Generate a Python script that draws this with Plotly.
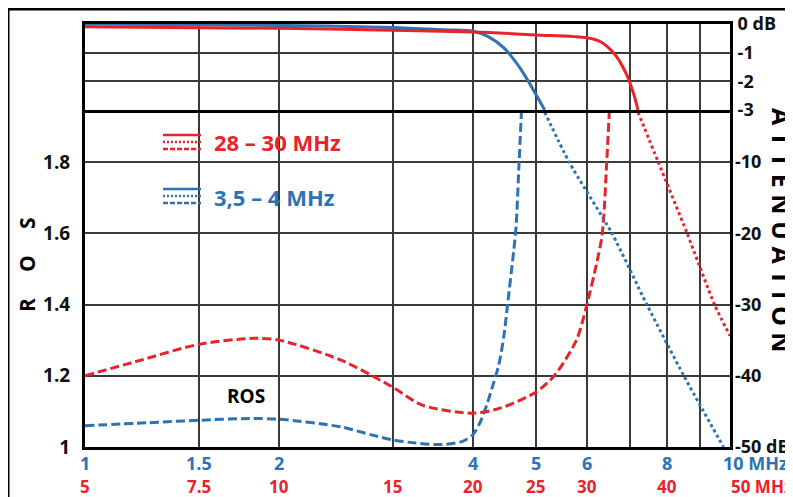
import numpy as np
import plotly.graph_objects as go

# ---------------- data ----------------
# Frequency grid (3,5-4 MHz band scale, MHz); the 28-30 MHz band scale is 5x
grid_freqs = [1, 1.5, 2, 3, 4, 5, 6, 7, 8, 9, 10]
blue_tick_vals = [1, 1.5, 2, 4, 5, 6, 8, 10]
blue_tick_text = ["1", "1.5", "2", "4", "5", "6", "8", "10 MHz"]
red_tick_vals = [5, 7.5, 10, 15, 20, 25, 30, 40, 50]
red_tick_text = ["5", "7.5", "10", "15", "20", "25", "30", "40", "50 MHz"]
RED_SCALE = 5  # red frequency axis = 5 x blue frequency axis

ros_ticks = [1, 1.2, 1.4, 1.6, 1.8]
ros_tick_text = ["1", "1.2", "1.4", "1.6", "1.8"]
att_low_ticks = [-10, -20, -30, -40, -50]
att_low_text = ["-10", "-20", "-30", "-40", "-50 dB"]
att_top_ticks = [0, -1, -2, -3]
att_top_text = ["0 dB", "-1", "-2", "-3"]

# 3,5 - 4 MHz filter : attenuation (dB) and ROS (SWR)
blue_att_f = [1.0, 2.0, 3.0, 3.6, 4.0, 4.22, 4.47, 4.73, 4.98, 5.16, 5.63, 6.56, 7.43, 8.48, 9.77]
blue_att_db = [0.0, -0.05, -0.12, -0.2, -0.25, -0.44, -0.85, -1.55, -2.38, -3.0, -10, -20, -30, -40, -50]
blue_ros_f = [1.0, 1.25, 1.5, 1.8, 2.0, 2.5, 2.78, 3.0, 3.26, 3.58, 3.85, 4.0, 4.1, 4.2, 4.3,
              4.38, 4.46, 4.52, 4.62, 4.66, 4.71, 4.75]
blue_ros = [1.06, 1.068, 1.075, 1.08, 1.078, 1.056, 1.034, 1.02, 1.011, 1.007, 1.016, 1.036, 1.07,
            1.12, 1.18, 1.23, 1.31, 1.40, 1.55, 1.62, 1.80, 1.943]

# 28 - 30 MHz filter
red_att_f = [5, 10, 15, 20, 25, 30, 31.5, 33.2, 34.6, 35.5, 36.0, 38.7, 42.9, 47.3, 50]
red_att_db = [-0.1, -0.15, -0.22, -0.28, -0.38, -0.48, -0.62, -1.08, -1.78, -2.48, -3.0, -10, -20, -30, -34.4]
red_ros_f = [5, 6, 7.5, 9.1, 10, 12.5, 15, 16.7, 20, 22, 25, 26.7, 28.9, 30, 31.1, 31.7, 32.2, 32.5]
red_ros = [1.20, 1.24, 1.288, 1.305, 1.30, 1.243, 1.168, 1.117, 1.095, 1.109, 1.154, 1.20, 1.30,
           1.40, 1.52, 1.60, 1.80, 1.943]

BLUE = "#2C73B6"
RED = "#E8232A"
GRID = "#3a3a3a"
FONT = "Open Sans"

# ---------------- geometry (screen pixels of the target picture) ----------------
OFF = 8                      # page body margin
W, H = 793 - OFF, 497 - OFF  # figure size
L, R, T, B = 85, 730, 24, 447
SPLIT = 110


def px(x):
    return (x - L) / (R - L)


def py(y):
    return (B - y) / (B - T)


d_split = py(SPLIT)
ros_top = 1 + (B - SPLIT) * 0.8 / (B - 162)
att_top = -50 + (B - SPLIT) * 40 / (B - 162)


def split(f, db):
    pf = [a for a, b in zip(f, db) if b >= -3]
    pd = [b for b in db if b >= -3]
    sf = [a for a, b in zip(f, db) if b <= -3]
    sd = [b for b in db if b <= -3]
    return pf, pd, sf, sd


fig = go.Figure()

for f, db, ros_f, ros, col, scale in [
    (blue_att_f, blue_att_db, blue_ros_f, blue_ros, BLUE, 1),
    (red_att_f, red_att_db, red_ros_f, red_ros, RED, RED_SCALE),
]:
    pf, pd, sf, sd = split(f, db)
    fig.add_trace(go.Scatter(x=np.array(pf) / scale, y=pd, xaxis="x2", yaxis="y3", mode="lines",
                             line=dict(color=col, width=3, shape="spline", smoothing=0.8),
                             hoverinfo="skip"))
    fig.add_trace(go.Scatter(x=np.array(sf) / scale, y=sd, xaxis="x", yaxis="y2", mode="lines",
                             line=dict(color=col, width=3, dash="3px,3px", shape="spline", smoothing=0.6),
                             hoverinfo="skip"))
    fig.add_trace(go.Scatter(x=np.array(ros_f) / scale, y=ros, xaxis="x", yaxis="y", mode="lines",
                             line=dict(color=col, width=3, dash="9px,4px", shape="spline", smoothing=0.8),
                             hoverinfo="skip"))

axis_common = dict(type="log", range=[0, 1], tickvals=grid_freqs, showticklabels=False, ticks="",
                   showgrid=True, gridcolor=GRID, gridwidth=1.5, showline=True,
                   linecolor="black", linewidth=3, zeroline=False, automargin=False)

fig.update_layout(
    template="none",
    width=W, height=H,
    margin=dict(l=L - OFF, r=W - (R - OFF), t=T - OFF, b=H - (B - OFF), pad=0, autoexpand=False),
    paper_bgcolor="white", plot_bgcolor="white",
    showlegend=False,
    font=dict(family=FONT, color="black"),
    xaxis=dict(domain=[0, 1], anchor="y", mirror=False, **axis_common),
    xaxis2=dict(domain=[0, 1], anchor="y3", matches="x", mirror=True, **axis_common),
    yaxis=dict(domain=[0, d_split], range=[1, ros_top], tickvals=ros_ticks, ticktext=ros_tick_text,
               ticks="", ticklabelstandoff=8, showgrid=True, gridcolor=GRID, gridwidth=1.5,
               showline=True, mirror=True, linecolor="black", linewidth=3, zeroline=False,
               automargin=False,
               tickfont=dict(family=FONT, size=19, color="#111", weight="bold")),
    yaxis2=dict(overlaying="y", side="right", anchor="x", range=[-50, att_top],
                tickvals=att_low_ticks, ticktext=att_low_text, ticks="", ticklabelstandoff=4,
                showgrid=False, showline=False, zeroline=False, automargin=False,
                tickfont=dict(family=FONT, size=18, color="#111", weight="bold")),
    yaxis3=dict(domain=[d_split, 1], anchor="x2", side="right", range=[-3, 0],
                tickvals=att_top_ticks, ticktext=att_top_text, ticks="", ticklabelstandoff=1,
                showgrid=True, gridcolor=GRID, gridwidth=1.5, showline=True, mirror=True,
                linecolor="black", linewidth=3, zeroline=False, automargin=False,
                tickfont=dict(family=FONT, size=18, color="#111", weight="bold")),
)

ann = []
# frequency labels (two scales)
for v, t in zip(blue_tick_vals, blue_tick_text):
    last = t.endswith("MHz")
    ann.append(dict(x=np.log10(v), y=py(463), xref="x", yref="paper", text=t, showarrow=False,
                    xanchor="left" if last else "center", yanchor="middle", xshift=-9 if last else 0,
                    font=dict(family=FONT, size=18, color=BLUE, weight="bold")))
for v, t in zip(red_tick_vals, red_tick_text):
    last = t.endswith("MHz")
    ann.append(dict(x=np.log10(v / RED_SCALE), y=py(486), xref="x", yref="paper", text=t, showarrow=False,
                    xanchor="left" if last else "center", yanchor="middle", xshift=-1 if last else 0,
                    font=dict(family=FONT, size=17, color=RED, weight="bold")))
# axis titles
ann.append(dict(x=px(27), y=py(265), xref="paper", yref="paper", text="R\u2003\u2005O\u2003\u2005S",
                textangle=-90, showarrow=False, xanchor="center", yanchor="middle",
                font=dict(family=FONT, size=21, color="black", weight="bold")))
ann.append(dict(x=px(782), y=py(230), xref="paper", yref="paper", text="A T T E N U A T I O N",
                textangle=90, showarrow=False, xanchor="center", yanchor="middle",
                font=dict(family=FONT, size=25, color="black", weight="bold")))
ann.append(dict(x=px(246), y=py(396), xref="paper", yref="paper", text="ROS", showarrow=False,
                xanchor="center", yanchor="middle",
                font=dict(family=FONT, size=19, color="black", weight="bold")))
# legend
ann.append(dict(x=px(212), y=py(142), xref="paper", yref="paper", text="28 \u2013 30 MHz", showarrow=False,
                xanchor="left", yanchor="middle", font=dict(family=FONT, size=22, color=RED, weight="bold")))
ann.append(dict(x=px(212), y=py(197), xref="paper", yref="paper", text="3,5 \u2013 4 MHz", showarrow=False,
                xanchor="left", yanchor="middle", font=dict(family=FONT, size=22, color=BLUE, weight="bold")))

shapes = []
for col, y0 in [(RED, 135), (BLUE, 189)]:
    for k, dash in enumerate(["solid", "2px,2px", "5px,2px"]):
        yy = py(y0 + 7 * k)
        shapes.append(dict(type="line", xref="paper", yref="paper", x0=px(163), x1=px(201), y0=yy, y1=yy,
                           line=dict(color=col, width=2.5, dash=dash)))
# outer frame (top and left)
shapes.append(dict(type="line", xref="paper", yref="paper", x0=px(8), x1=px(800), y0=py(9), y1=py(9),
                   line=dict(color="black", width=3)))
shapes.append(dict(type="line", xref="paper", yref="paper", x0=px(8), x1=px(8), y0=py(9), y1=py(505),
                   line=dict(color="black", width=3)))

fig.update_layout(annotations=ann, shapes=shapes)
fig.write_html("out.html")
